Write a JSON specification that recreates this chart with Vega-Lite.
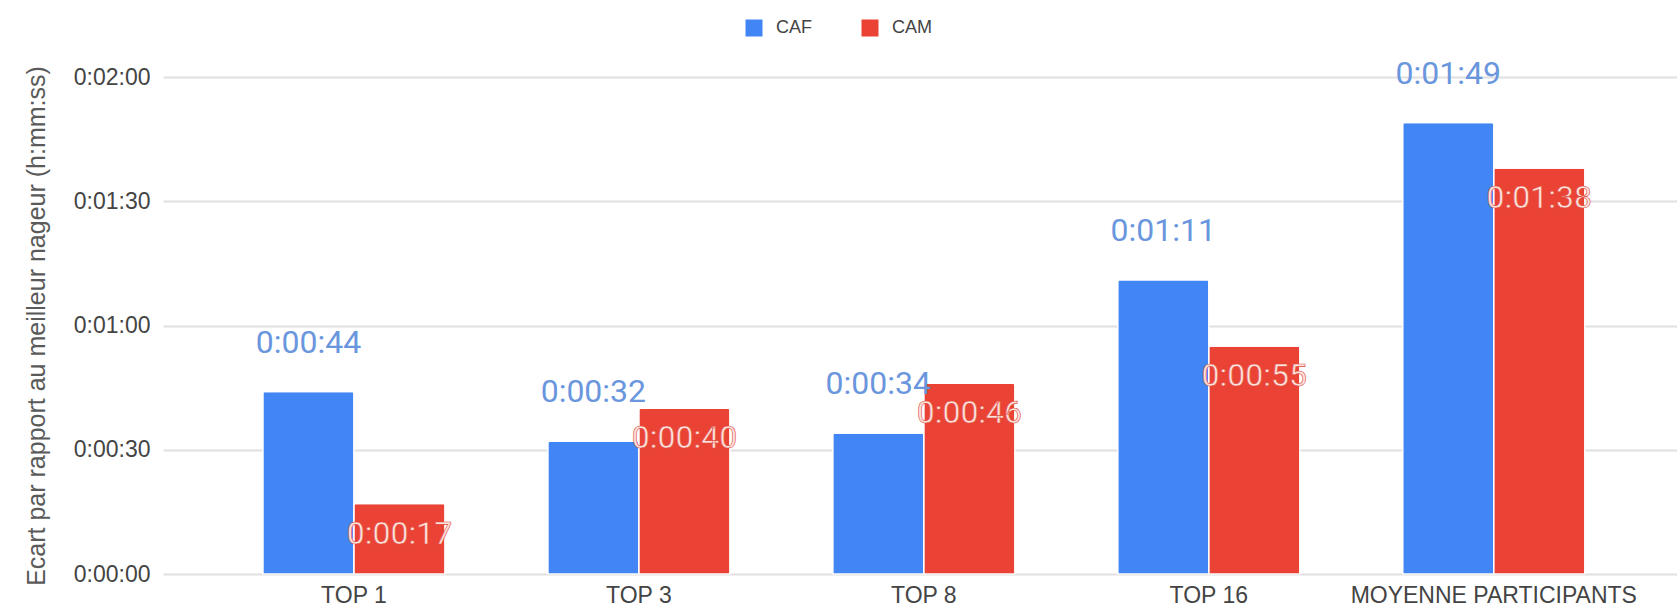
{
  "$schema": "https://vega.github.io/schema/vega-lite/v6.json",
  "autosize": {"type": "none"},
  "width": 1514,
  "height": 497,
  "padding": {"left": 163, "top": 77, "right": 0, "bottom": 39},
  "background": "white",
  "config": {
    "view": {"stroke": null},
    "font": "Liberation Sans"
  },
  "data": {
    "values": [
      {"cat": "TOP 1", "serie": "CAF", "sec": 44, "label": "0:00:44"},
      {"cat": "TOP 1", "serie": "CAM", "sec": 17, "label": "0:00:17"},
      {"cat": "TOP 3", "serie": "CAF", "sec": 32, "label": "0:00:32"},
      {"cat": "TOP 3", "serie": "CAM", "sec": 40, "label": "0:00:40"},
      {"cat": "TOP 8", "serie": "CAF", "sec": 34, "label": "0:00:34"},
      {"cat": "TOP 8", "serie": "CAM", "sec": 46, "label": "0:00:46"},
      {"cat": "TOP 16", "serie": "CAF", "sec": 71, "label": "0:01:11"},
      {"cat": "TOP 16", "serie": "CAM", "sec": 55, "label": "0:00:55"},
      {"cat": "MOYENNE PARTICIPANTS", "serie": "CAF", "sec": 109, "label": "0:01:49"},
      {"cat": "MOYENNE PARTICIPANTS", "serie": "CAM", "sec": 98, "label": "0:01:38"}
    ]
  },
  "encoding": {
    "x": {
      "field": "cat",
      "type": "nominal",
      "sort": null,
      "scale": {"paddingInner": 0.361, "paddingOuter": 0.337, "align": 0.52, "round": false},
      "axis": {
        "title": null,
        "domain": false,
        "ticks": false,
        "labelAngle": 0,
        "labelFontSize": 23,
        "labelLimit": 0,
        "labelColor": "#444444",
        "labelPadding": 10
      }
    },
    "xOffset": {"field": "serie", "type": "nominal", "scale": {"paddingInner": 0, "paddingOuter": 0}},
    "y": {
      "field": "sec",
      "type": "quantitative",
      "scale": {"domain": [0, 120], "nice": false},
      "axis": {
        "values": [0, 30, 60, 90, 120],
        "labelExpr": "'0:0' + floor(datum.value / 60) + ':' + (datum.value % 60 < 10 ? '0' : '') + (datum.value % 60)",
        "title": "Ecart par rapport au meilleur nageur (h:mm:ss)",
        "titleFontSize": 25,
        "titleFontWeight": "normal",
        "titleColor": "#5a5a5a",
        "titlePadding": 24,
        "domain": false,
        "ticks": false,
        "labelFontSize": 23,
        "labelColor": "#444444",
        "labelPadding": 13,
        "gridColor": "#e0e0e0",
        "gridWidth": 2
      }
    }
  },
  "layer": [
    {
      "mark": {"type": "bar", "stroke": "white", "strokeWidth": 1.2, "cornerRadiusTopLeft": 2, "cornerRadiusTopRight": 2},
      "encoding": {
        "color": {
          "field": "serie",
          "type": "nominal",
          "scale": {"domain": ["CAF", "CAM"], "range": ["#4285F4", "#EA4335"]},
          "legend": {
            "title": null,
            "orient": "none",
            "direction": "horizontal",
            "legendX": 582,
            "legendY": -58,
            "padding": 0,
            "symbolType": "square",
            "symbolSize": 289,
            "symbolStrokeWidth": 0,
            "labelFontSize": 18,
            "labelColor": "#444444",
            "labelOffset": 13,
            "columnPadding": 49
          }
        }
      }
    },
    {
      "transform": [{"filter": "datum.serie == 'CAF'"}],
      "mark": {"type": "text", "font": "Roboto", "fontSize": 32, "dy": -49, "baseline": "middle", "align": "center", "fill": "#6a96de"},
      "encoding": {"text": {"field": "label"}}
    },
    {
      "transform": [{"filter": "datum.serie == 'CAM'"}],
      "mark": {"type": "text", "font": "Roboto", "fontSize": 32, "dy": 30, "baseline": "middle", "align": "center", "fill": "#fde1dc", "stroke": "#e04a3c", "strokeWidth": 0.6},
      "encoding": {"text": {"field": "label"}}
    }
  ]
}
